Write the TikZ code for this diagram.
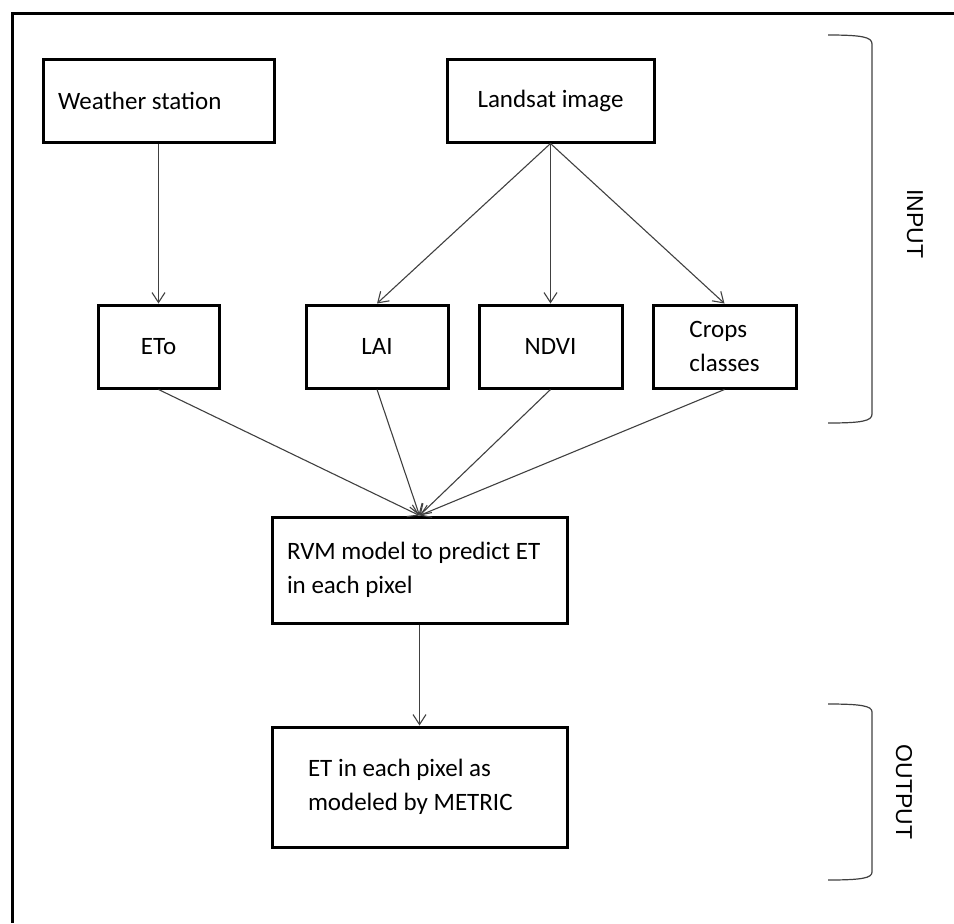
\documentclass[tikz,border=0pt]{standalone}
\usepackage{fontspec}
\setmainfont{Carlito}
\newfontfamily\arialfont{Liberation Sans}
\usepackage{tikz}
\usetikzlibrary{arrows.meta}
\definecolor{linegray}{RGB}{64,64,64}

\begin{document}
\begin{tikzpicture}[
    x=0.5pt, y=-0.5pt,
    box/.style={draw,line width=1.5pt,minimum height=41.5pt,inner sep=0pt,font=\fontsize{12.5}{17}\selectfont},
    >={Straight Barb[length=5pt,width=6.5pt]},
    link/.style={->,line width=0.55pt,linegray},
    bracket/.style={draw,line width=0.6pt,linegray},
    side/.style={font=\arialfont\fontsize{11.5}{14}\selectfont,rotate=-90}
]
\useasboundingbox (0,0) rectangle (954,923);
\draw[line width=1.5pt] (954,13) -- (12,13) -- (12,923);

\node[box,minimum width=115.5pt,text width=100.5pt,inner xsep=7.5pt,align=flush left] (ws) at (158.5,100.5) {Weather station};
\node[box,minimum width=103.5pt] (ls) at (550.5,100.5) {Landsat image};
\node[box,minimum width=60.5pt] (eto) at (158.5,346.5) {ETo};
\node[box,minimum width=71pt] (lai) at (377,346.5) {LAI};
\node[box,minimum width=71.5pt] (ndvi) at (550.5,346.5) {NDVI};
\node[box,minimum width=71.5pt,align=left] (crops) at (724.5,346.5) {Crops\\classes};
\node[box,minimum height=53pt,text width=132.5pt,inner xsep=7.5pt,align=flush left] (rvm) at (419.5,570) {RVM model to predict ET\\in each pixel};
\node[box,minimum height=60pt,text width=111.5pt,inner xsep=18pt,align=flush left] (etout) at (419.5,787) {ET in each pixel as\\modeled by METRIC};

\draw[link] (ws) -- (eto);
\draw[link] (ls.south) -- (lai.north);
\draw[link] (ls.south) -- (ndvi.north);
\draw[link] (ls.south) -- (crops.north);
\draw[link] (eto.south) -- (rvm.north);
\draw[link] (lai.south) -- (rvm.north);
\draw[link] (ndvi.south) -- (rvm.north);
\draw[link] (crops.south) -- (rvm.north);
\draw[link] (rvm) -- (etout);

\draw[bracket] (828,35) .. controls (862,35) and (872,37) .. (872,44) -- (872,414) .. controls (872,421) and (862,423) .. (828,423);
\draw[bracket] (828,704) .. controls (862,704) and (872,706) .. (872,712) -- (872,872) .. controls (872,878) and (862,880) .. (828,880);
\node[side] (inlbl) at (915,224) {INPUT};
\node[side] (outlbl) at (904,792) {OUTPUT};
\end{tikzpicture}
\end{document}
